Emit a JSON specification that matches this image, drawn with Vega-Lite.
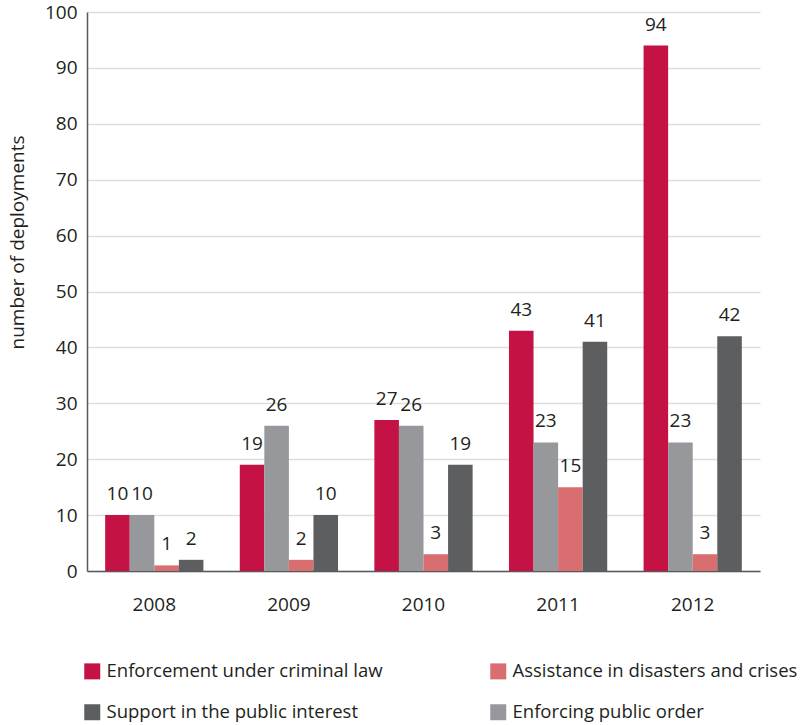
{
  "$schema": "https://vega.github.io/schema/vega-lite/v6.json",
  "width": 673,
  "height": 559,
  "autosize": {"type": "none"},
  "padding": {"left": 87, "top": 12, "right": 47, "bottom": 154},
  "background": "white",
  "config": {
    "font": "Open Sans",
    "view": {"stroke": null},
    "text": {"font": "Open Sans"}
  },
  "data": {
    "values": [
      {"year": "2008", "series": "Enforcement under criminal law", "value": 10},
      {"year": "2008", "series": "Enforcing public order", "value": 10},
      {"year": "2008", "series": "Assistance in disasters and crises", "value": 1},
      {"year": "2008", "series": "Support in the public interest", "value": 2},
      {"year": "2009", "series": "Enforcement under criminal law", "value": 19},
      {"year": "2009", "series": "Enforcing public order", "value": 26},
      {"year": "2009", "series": "Assistance in disasters and crises", "value": 2},
      {"year": "2009", "series": "Support in the public interest", "value": 10},
      {"year": "2010", "series": "Enforcement under criminal law", "value": 27},
      {"year": "2010", "series": "Enforcing public order", "value": 26},
      {"year": "2010", "series": "Assistance in disasters and crises", "value": 3},
      {"year": "2010", "series": "Support in the public interest", "value": 19},
      {"year": "2011", "series": "Enforcement under criminal law", "value": 43},
      {"year": "2011", "series": "Enforcing public order", "value": 23},
      {"year": "2011", "series": "Assistance in disasters and crises", "value": 15},
      {"year": "2011", "series": "Support in the public interest", "value": 41},
      {"year": "2012", "series": "Enforcement under criminal law", "value": 94},
      {"year": "2012", "series": "Enforcing public order", "value": 23},
      {"year": "2012", "series": "Assistance in disasters and crises", "value": 3},
      {"year": "2012", "series": "Support in the public interest", "value": 42}
    ]
  },
  "encoding": {
    "x": {
      "field": "year",
      "type": "nominal",
      "scale": {"paddingInner": 0.27, "paddingOuter": 0.135},
      "axis": {
        "title": null,
        "labelAngle": 0,
        "labelFontSize": 19,
        "labelColor": "#231F20",
        "labelPadding": 24,
        "ticks": false,
        "domainColor": "#58595B",
        "domainWidth": 1.5,
        "grid": false
      }
    },
    "xOffset": {
      "field": "series",
      "type": "nominal",
      "sort": ["Enforcement under criminal law", "Enforcing public order", "Assistance in disasters and crises", "Support in the public interest"],
      "scale": {"paddingInner": 0, "paddingOuter": 0}
    },
    "y": {
      "field": "value",
      "type": "quantitative",
      "scale": {"domain": [0, 100], "nice": false},
      "axis": {
        "title": "number of deployments",
        "titleFontSize": 19,
        "titleFontWeight": "normal",
        "titleColor": "#231F20",
        "titleX": -70,
        "titleY": 230,
        "titleAngle": -90,
        "titleBaseline": "middle",
        "titleAlign": "center",
        "values": [0, 10, 20, 30, 40, 50, 60, 70, 80, 90, 100],
        "labelOverlap": false,
        "labelFontSize": 19,
        "labelColor": "#231F20",
        "labelPadding": 10,
        "ticks": false,
        "domainColor": "#58595B",
        "domainWidth": 1.5,
        "gridColor": "#DCDDDE",
        "gridWidth": 1.5
      }
    }
  },
  "layer": [
    {
      "mark": {"type": "bar"},
      "encoding": {
        "color": {
          "field": "series",
          "type": "nominal",
          "scale": {
            "domain": ["Enforcement under criminal law", "Assistance in disasters and crises", "Support in the public interest", "Enforcing public order"],
            "range": ["#C41245", "#D96E70", "#5D5E60", "#97989C"]
          },
          "legend": {
            "title": null,
            "orient": "none",
            "legendX": -4,
            "legendY": 650,
            "direction": "horizontal",
            "columns": 2,
            "symbolType": "square",
            "symbolSize": 256,
            "symbolStrokeWidth": 0,
            "labelFontSize": 18.5,
            "labelColor": "#231F20",
            "labelOffset": 5,
            "labelLimit": 400,
            "columnPadding": 106,
            "rowPadding": 22
          }
        }
      }
    },
    {
      "mark": {"type": "text", "baseline": "bottom", "dy": -11, "fontSize": 19, "color": "#231F20"},
      "encoding": {
        "text": {"field": "value", "type": "quantitative"}
      }
    }
  ]
}
